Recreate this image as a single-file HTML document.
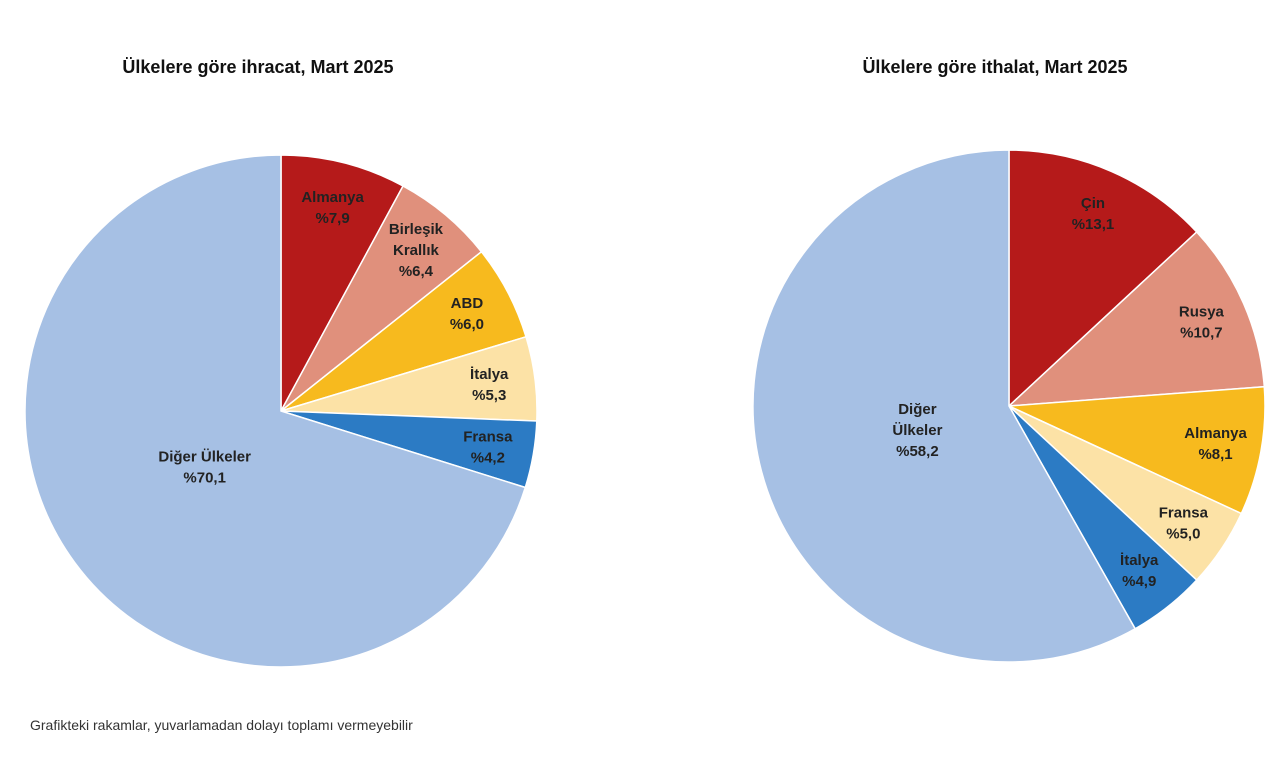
<!DOCTYPE html>
<html><head><meta charset="utf-8"><style>
html,body{margin:0;padding:0;background:#fff;}
svg{display:block;font-family:"Liberation Sans",Arial,sans-serif;}
</style></head><body>
<svg id="chart" width="1280" height="758" viewBox="0 0 1280 758">
<text x="258" y="73" text-anchor="middle" font-size="18" font-weight="bold" fill="#111">Ülkelere göre ihracat, Mart 2025</text>
<text x="995" y="73" text-anchor="middle" font-size="18" font-weight="bold" fill="#111">Ülkelere göre ithalat, Mart 2025</text>
<text x="30" y="730" font-size="14" fill="#333">Grafikteki rakamlar, yuvarlamadan dolayı toplamı vermeyebilir</text>
<g id="left"></g>
<g id="right"></g>
</svg>
<script>
const exportCategories = ["Almanya","Birleşik Krallık","ABD","İtalya","Fransa","Diğer Ülkeler"];
const exportValues = [7.9,6.4,6.0,5.3,4.2,70.1];
const importCategories = ["Çin","Rusya","Almanya","Fransa","İtalya","Diğer Ülkeler"];
const importValues = [13.1,10.7,8.1,5.0,4.9,58.2];
const exportLabelLines = [["Almanya"],["Birleşik","Kralllık"],["ABD"],["İtalya"],["Fransa"],["Diğer Ülkeler"]];
const importLabelLines = [["Çin"],["Rusya"],["Almanya"],["Fransa"],["İtalya"],["Diğer","Ülkeler"]];
exportLabelLines[1][1]="Krallık";
const colors = ["#B51A1A","#E0907C","#F7BA1E","#FCE2A6","#2C7BC4","#A6C0E4"];
const NS="http://www.w3.org/2000/svg";
function fmt(v){return "%"+v.toFixed(1).replace(".",",");}
function drawPie(gid, cx, cy, r, cats, vals, lines){
  const g=document.getElementById(gid);
  const total=vals.reduce((a,b)=>a+b,0);
  let a0=0;
  vals.forEach((v,i)=>{
    const a1=a0+v/total*2*Math.PI;
    const p=(a)=>[cx+r*Math.sin(a), cy-r*Math.cos(a)];
    const [x0,y0]=p(a0),[x1,y1]=p(a1);
    const large=(a1-a0)>Math.PI?1:0;
    const path=document.createElementNS(NS,"path");
    path.setAttribute("d",`M${cx},${cy} L${x0},${y0} A${r},${r} 0 ${large} 1 ${x1},${y1} Z`);
    path.setAttribute("fill",colors[i]);
    path.setAttribute("stroke","#fff");
    path.setAttribute("stroke-width","1.5");
    
    
    g.appendChild(path);
    const mid=(a0+a1)/2;
    const lr = v/total>0.4 ? r*0.37 : r*0.82;
    const lx=cx+lr*Math.sin(mid), ly=cy-lr*Math.cos(mid);
    const ls=lines[i].concat([fmt(v)]);
    const t=document.createElementNS(NS,"text");
    t.setAttribute("text-anchor","middle");
    t.setAttribute("font-size","15");
    t.setAttribute("font-weight","bold");
    t.setAttribute("fill","#222");
    
    
    const lh=21, startY=ly-(ls.length-1)*lh/2+5;
    ls.forEach((s,k)=>{
      const ts=document.createElementNS(NS,"tspan");
      ts.setAttribute("x",lx);
      ts.setAttribute("y",startY+k*lh);
      ts.textContent=s;
      t.appendChild(ts);
    });
    g.appendChild(t);
    a0=a1;
  });
}
drawPie("left",281,411,256,exportCategories,exportValues,exportLabelLines);
drawPie("right",1009,406,256,importCategories,importValues,importLabelLines);
</script>
</body></html>
